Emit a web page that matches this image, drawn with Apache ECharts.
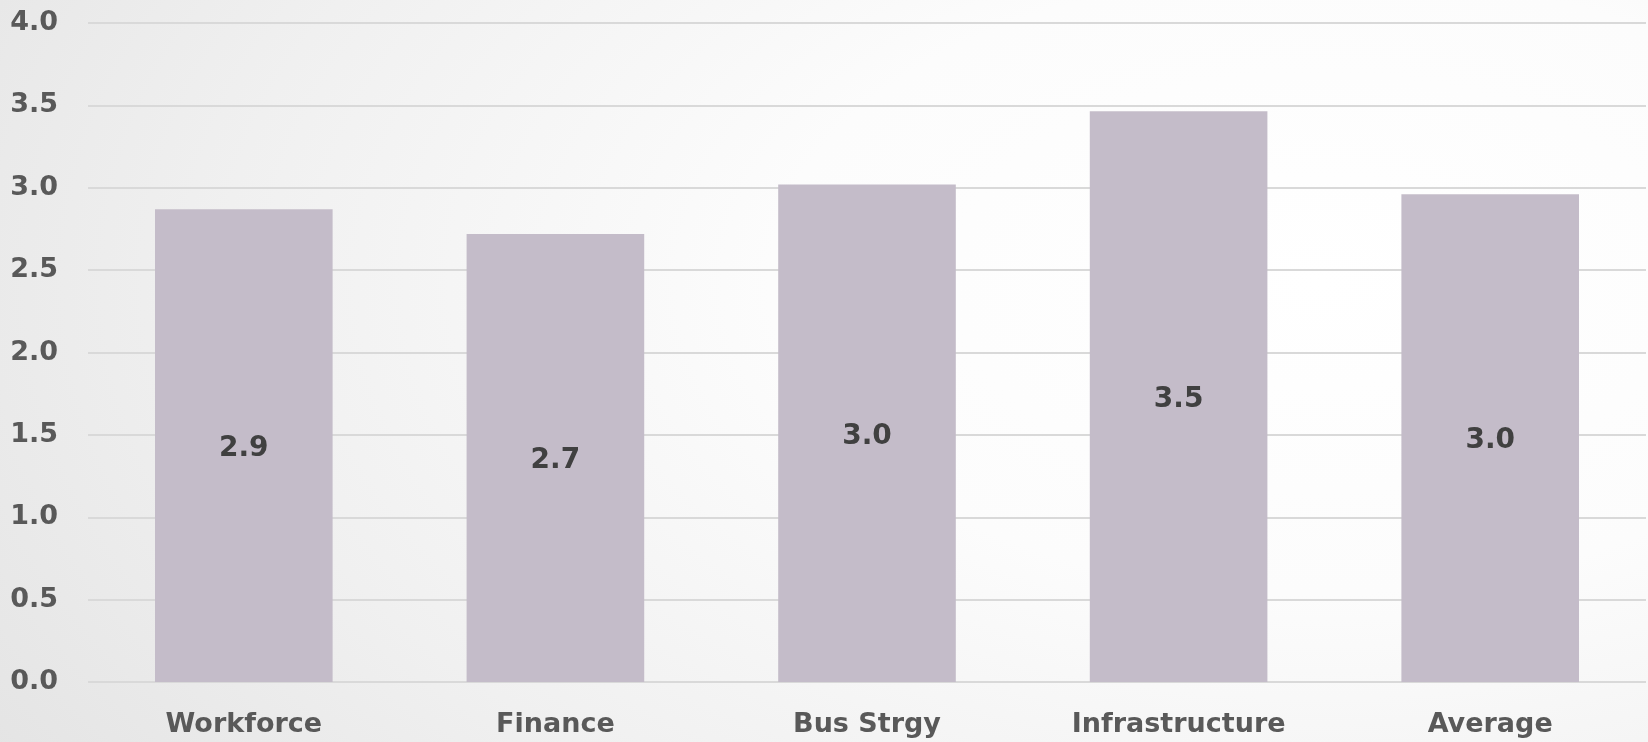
<!DOCTYPE html>
<html>
<head>
<meta charset="utf-8">
<script src="https://cdn.jsdelivr.net/npm/echarts@6/dist/echarts.min.js"></script>
<style>
  html, body { margin: 0; padding: 0; }
  #chart {
    width: 1648px; height: 742px;
    background: radial-gradient(ellipse 95% 120% at 80% 38%, #ffffff 0%, #fcfcfc 35%, #f0f0f0 70%, #e4e4e4 100%);
  }
</style>
</head>
<body>
<div id="chart"></div>
<script>
// Scores per capability area
const categories = ['Workforce', 'Finance', 'Bus Strgy', 'Infrastructure', 'Average'];
const scores = [2.87, 2.72, 3.02, 3.465, 2.96];
const yTicks = { min: 0, max: 4, interval: 0.5 };

const FONT = 'DejaVu Sans';
const chart = echarts.init(document.getElementById('chart'));
chart.setOption({
  backgroundColor: 'transparent',
  animation: false,
  grid: { left: 88, right: 2, top: 23, bottom: 60, containLabel: false },
  xAxis: {
    type: 'category',
    data: categories,
    axisLine: { show: false },
    axisTick: { show: false },
    axisLabel: {
      margin: 29,
      color: '#595959',
      fontFamily: FONT,
      fontWeight: 'bold',
      fontSize: 27
    }
  },
  yAxis: {
    type: 'value',
    min: yTicks.min,
    max: yTicks.max,
    interval: yTicks.interval,
    axisLine: { show: false },
    axisTick: { show: false },
    splitLine: { lineStyle: { color: '#d9d9d9', width: 2 } },
    axisLabel: {
      margin: 30,
      color: '#595959',
      fontFamily: FONT,
      fontWeight: 'bold',
      fontSize: 27,
      formatter: v => v.toFixed(1)
    }
  },
  series: [{
    type: 'bar',
    data: scores,
    barWidth: '57%',
    itemStyle: { color: '#c4bcc9' },
    label: {
      show: true,
      position: 'inside',
      offset: [0, 3],
      color: '#404040',
      fontFamily: FONT,
      fontWeight: 'bold',
      fontSize: 28,
      formatter: p => p.value.toFixed(1)
    }
  }]
});
</script>
</body>
</html>
